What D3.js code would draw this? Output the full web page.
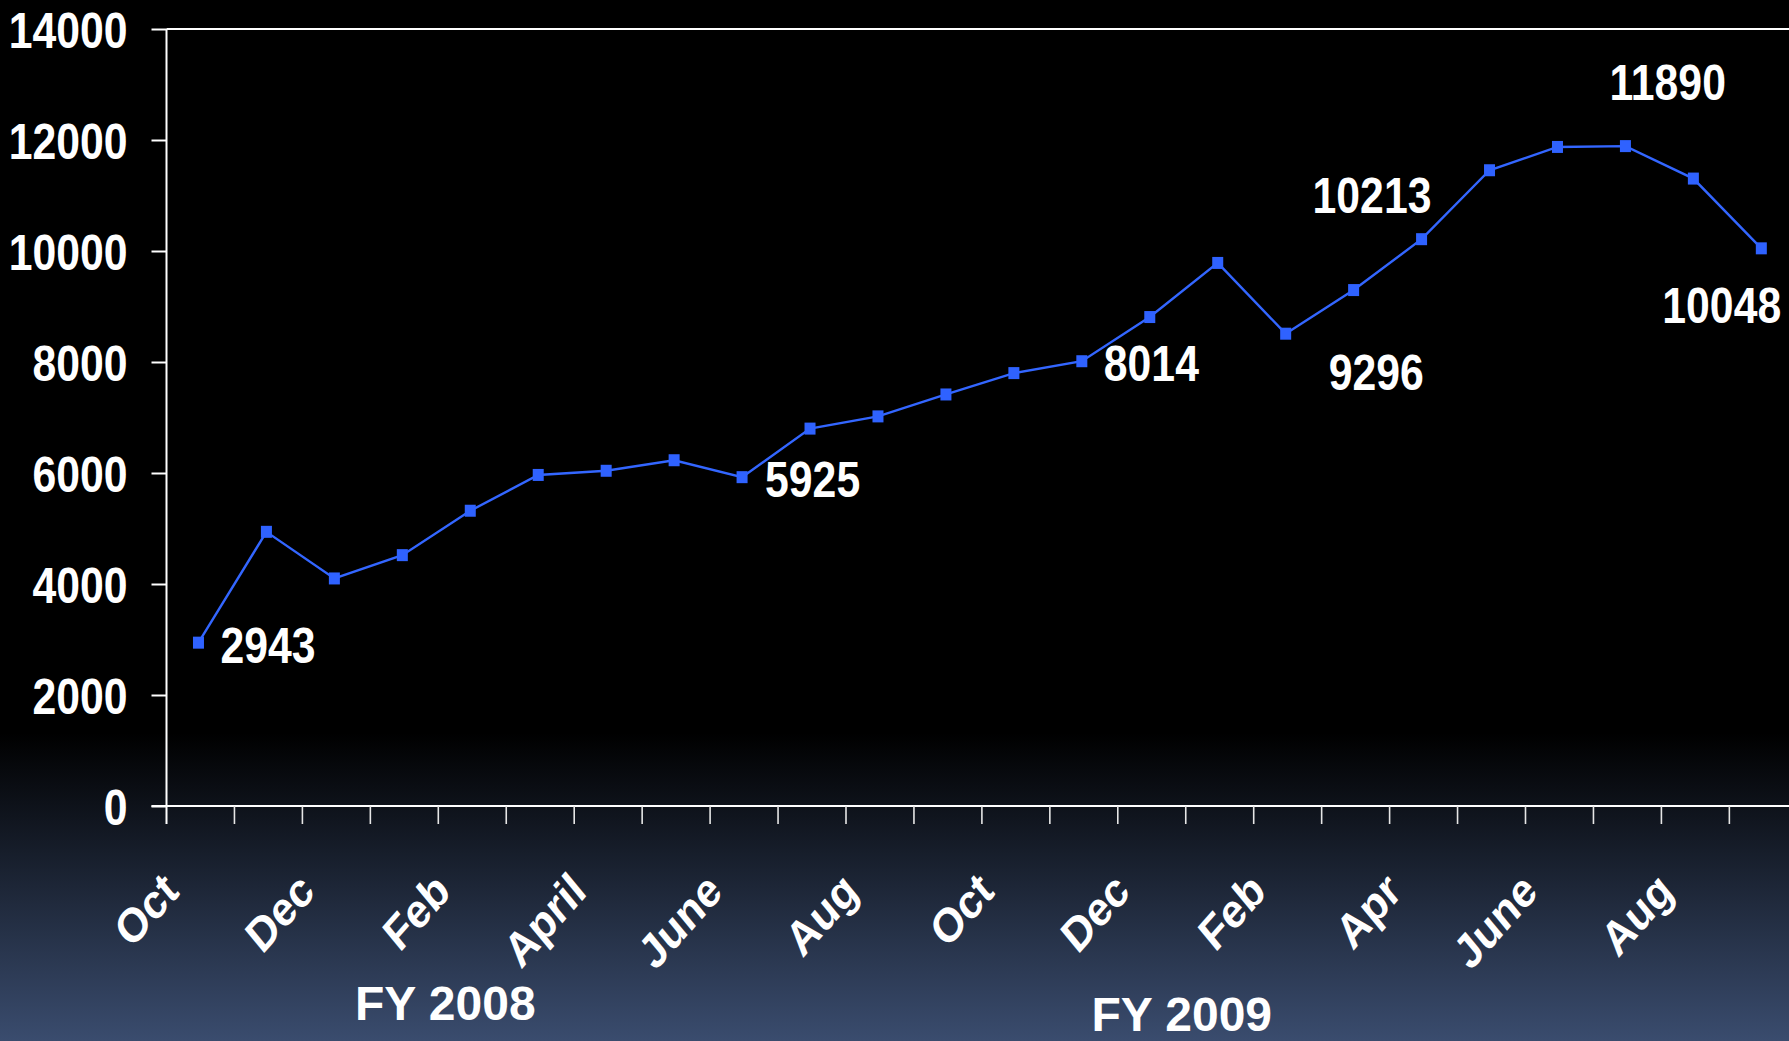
<!DOCTYPE html>
<html>
<head>
<meta charset="utf-8">
<script src="https://cdn.jsdelivr.net/npm/d3@7"></script>
<style>
html,body{margin:0;padding:0;background:#000;overflow:hidden}
text{font-family:"Liberation Sans",Arial,Helvetica,sans-serif;font-weight:bold;fill:#fff}
</style>
</head>
<body>
<svg id="chart" width="1789" height="1041"></svg>
<script>
// ---- data ----
const months = ["Oct","Nov","Dec","Jan","Feb","Mar","Apr","May","Jun","Jul","Aug","Sep",
                "Oct","Nov","Dec","Jan","Feb","Mar","Apr","May","Jun","Jul","Aug","Sep"];
const values = [2943,4940,4100,4520,5320,5965,6040,6230,5925,6800,7020,7415,
                7800,8014,8810,9785,8510,9296,10213,11455,11875,11890,11305,10048];
const tickLabels = ["Oct","","Dec","","Feb","","April","","June","","Aug","",
                    "Oct","","Dec","","Feb","","Apr","","June","","Aug",""];
const yTicks = [0,2000,4000,6000,8000,10000,12000,14000];
const labeledIdx = [0,8,13,17,18,21,23];
const fyLabels = ["FY 2008","FY 2009"];

(function(){
// ---- layout ----
const W = 1789, H = 1041;
const mLeft = 166.5, mTop = 29, mBottom = 806, step = 67.95;
const svg = d3.select("#chart");
const SX = 0.855; // horizontal squeeze of text

const defs = svg.append("defs");
const grad = defs.append("linearGradient").attr("id","bg").attr("x1",0).attr("y1",0).attr("x2",0).attr("y2",1);
grad.append("stop").attr("offset", 733/H).attr("stop-color","#000000");
grad.append("stop").attr("offset", 1).attr("stop-color","#3a4c6e");
svg.append("rect").attr("width",W).attr("height",H).attr("fill","url(#bg)");

const x = d3.scaleBand().domain(d3.range(months.length)).range([mLeft, mLeft + step*months.length]).padding(0);
const y = d3.scaleLinear().domain([0,14000]).range([mBottom, mTop]);

// y axis
const yAxis = d3.axisLeft(y).tickValues(yTicks).tickSize(15).tickSizeOuter(0).tickFormat(d3.format("d"));
const gy = svg.append("g").attr("transform", `translate(${mLeft},0)`).call(yAxis);
gy.select(".domain").remove();
gy.selectAll(".tick line").attr("stroke","#fff").attr("stroke-width",2);
gy.selectAll(".tick text")
  .attr("x",0).attr("dy",null)
  .attr("transform", "translate(-39,18) scale(" + SX + ",1)")
  .attr("text-anchor","end")
  .style("font-size","50px").style("fill","#fff")
  .style("font-family","'Liberation Sans',Arial,sans-serif").style("font-weight","bold");

// frame lines: y axis, top line, x axis
svg.append("line").attr("x1",mLeft).attr("x2",mLeft).attr("y1",y(14000)).attr("y2",mBottom+18)
  .attr("stroke","#fff").attr("stroke-width",2);
svg.append("line").attr("x1",mLeft).attr("x2",W).attr("y1",y(14000)).attr("y2",y(14000))
  .attr("stroke","#fff").attr("stroke-width",2);
svg.append("line").attr("x1",mLeft-15).attr("x2",W).attr("y1",y(0)).attr("y2",y(0))
  .attr("stroke","#fff").attr("stroke-width",2);

// x ticks between categories
svg.append("g").selectAll("line").data(d3.range(1, months.length+1)).join("line")
  .attr("x1", d => mLeft + d*x.step()).attr("x2", d => mLeft + d*x.step())
  .attr("y1", mBottom).attr("y2", mBottom+18)
  .attr("stroke","#e6e6e6").attr("stroke-width",1.6);

// x labels (rotated, squeezed)
svg.append("g").selectAll("text").data(tickLabels.map((t,i)=>({t,i})).filter(d=>d.t)).join("text")
  .attr("transform", d => `translate(${x(d.i)+x.bandwidth()/2-20},${mBottom+88}) scale(${SX},1) rotate(-44)`)
  .attr("text-anchor","end")
  .style("font-size","48px")
  .text(d => d.t);

// line
const cx = i => x(i) + x.bandwidth()/2 - 2;
const line = d3.line().x((d,i)=>cx(i)).y(d=>y(d));
svg.append("path").datum(values).attr("d", line)
  .attr("fill","none").attr("stroke","#3366ff").attr("stroke-width",2.4);

svg.append("g").selectAll("rect").data(values).join("rect")
  .attr("x",(d,i)=>cx(i)-5.5).attr("y",d=>y(d)-6)
  .attr("width",11).attr("height",12).attr("fill","#2f62ff");

// value labels
const place = {0:[22,20],8:[23,20],13:[22,20],17:[-25,100],18:[-109,-26],21:[-16,-46],23:[-99,75]};
svg.append("g").selectAll("text").data(labeledIdx).join("text")
  .attr("transform", i => `translate(${cx(i)+place[i][0]},${y(values[i])+place[i][1]}) scale(${SX},1)`)
  .style("font-size","50px")
  .text(i => values[i]);

// FY labels
const fyPos = [[x(4)+7, 1020],[x(15)-4, 1031]];
svg.append("g").selectAll("text").data(fyLabels).join("text")
  .attr("x",(d,i)=>fyPos[i][0]).attr("y",(d,i)=>fyPos[i][1])
  .attr("text-anchor","middle")
  .style("font-size","48px")
  .text(d=>d);
})();
</script>
</body>
</html>
